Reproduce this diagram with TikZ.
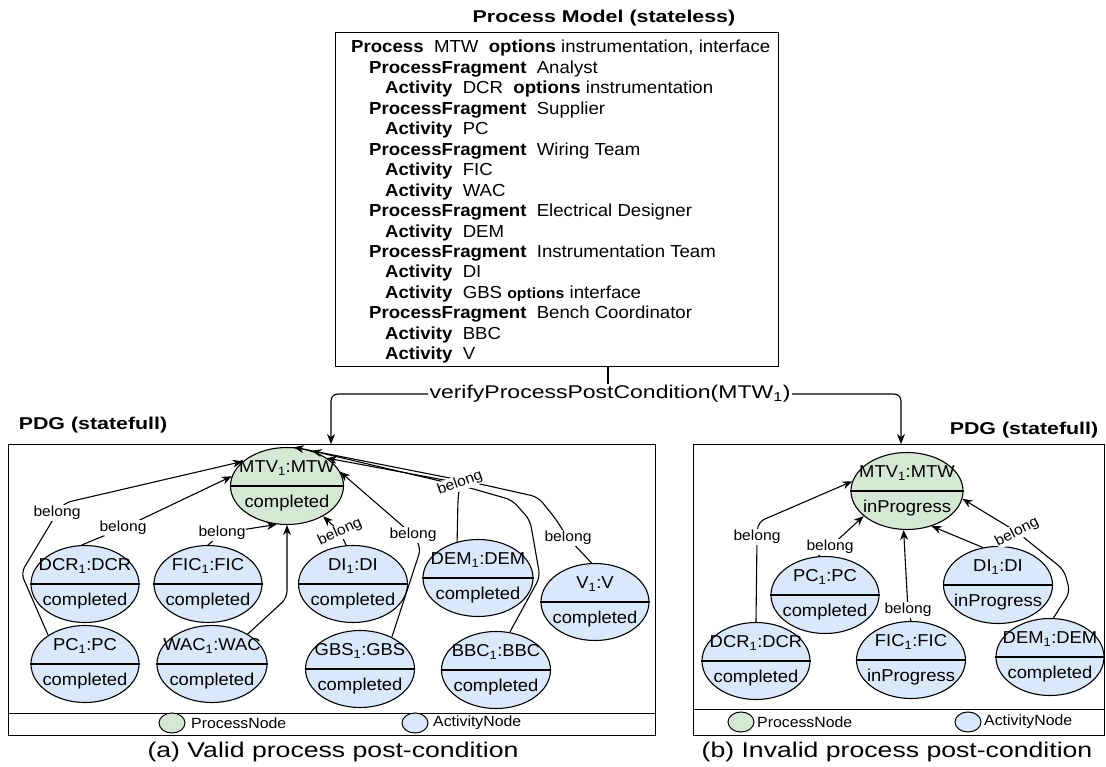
\documentclass[tikz,border=0pt]{standalone}
\usepackage{fontspec}
\setmainfont[FakeStretch=1.07]{Liberation Sans}
\newfontfamily\widefont[FakeStretch=1.25]{Liberation Sans}
\usetikzlibrary{arrows.meta,shapes.geometric,calc}
\definecolor{pgreen}{HTML}{D5E8D4}
\definecolor{ablue}{HTML}{DAE8FC}
\tikzset{
  ell/.style={ellipse, draw, line width=1.1pt, minimum width=109pt, minimum height=77pt, inner sep=0pt},
  eltxt/.style={font=\fontsize{17.2}{20}\selectfont, inner sep=0pt},
  lbl/.style={font=\fontsize{14.6}{17}\selectfont, fill=white, inner sep=1pt},
  conn/.style={line width=1.1pt, rounded corners=7pt},
  arr/.style={conn, -{Stealth[length=10pt,width=8pt]}},
  panel/.style={draw, line width=1.1pt, inner sep=0pt, anchor=north west},
  boxtxt/.style={font=\fontsize{17.4}{20}\selectfont, anchor=base west, inner sep=0pt},
  legell/.style={ellipse, draw, line width=1pt, minimum width=26pt, minimum height=20pt, inner sep=0pt},
  legtxt/.style={font=\fontsize{14.8}{17}\selectfont, anchor=west, inner sep=0pt},
  headtxt/.style={font=\widefont\fontsize{17.1}{20}\selectfont\bfseries, inner sep=0pt},
  captxt/.style={font=\widefont\fontsize{21.3}{25}\selectfont, inner sep=0pt}
}
\newcommand\enode[7]{%
  \node[ell, fill=#7, minimum width=#4] (#1) at (#2,#3) {};
  \draw[line width=1.1pt] (#1.west) -- (#1.east);
  \node[eltxt] (#1t) at ([yshift=18pt]#1.center) {#5};
  \node[eltxt] (#1b) at ([yshift=-17pt]#1.center) {#6};
}
\begin{document}
\begin{tikzpicture}[x=1pt,y=-1pt]
\useasboundingbox (0,0) rectangle (1106,767);

% ---------------- Process model
\node[headtxt] (title) at (604,18) {Process Model (stateless)};
\node[panel, minimum width=443pt, minimum height=334pt] (pm) at (335,32) {};
\foreach \i/\xx/\mytext in {
  1/351/{\textbf{Process}~~MTW~~\textbf{options}~instrumentation,~interface},
  2/369/{\textbf{ProcessFragment}~~Analyst},
  3/385/{\textbf{Activity}~~DCR~~\textbf{options}~instrumentation},
  4/369/{\textbf{ProcessFragment}~~Supplier},
  5/385/{\textbf{Activity}~~PC},
  6/369/{\textbf{ProcessFragment}~~Wiring Team},
  7/385/{\textbf{Activity}~~FIC},
  8/385/{\textbf{Activity}~~WAC},
  9/369/{\textbf{ProcessFragment}~~Electrical Designer},
  10/385/{\textbf{Activity}~~DEM},
  11/369/{\textbf{ProcessFragment}~~Instrumentation Team},
  12/385/{\textbf{Activity}~~DI},
  13/385/{\textbf{Activity}~~GBS~{\fontsize{14.8}{17}\selectfont\bfseries options}~interface},
  14/369/{\textbf{ProcessFragment}~~Bench Coordinator},
  15/385/{\textbf{Activity}~~BBC},
  16/385/{\textbf{Activity}~~V}}
  \node[boxtxt] (pl\i) at (\xx,{53+20.45*(\i-1)}) {\mytext};

\node[font=\widefont\fontsize{18.4}{21}\selectfont, inner sep=1.5pt] (vp) at (610,394) {verifyProcessPostCondition(MTW\textsubscript{1})};

% ---------------- panels
\node[headtxt] (ltitle) at (93,425) {PDG (statefull)};
\node[headtxt] (rtitle) at (1024,430) {PDG (statefull)};
\node[panel, minimum width=647pt, minimum height=291pt] (lbox) at (8,444) {};
\node[panel, minimum width=411pt, minimum height=291pt] (rbox) at (693,444) {};
\draw[line width=1.1pt] (lbox.south west) ++(0,23pt) coordinate (lsep) -- (lsep -| lbox.east);
\draw[line width=1.1pt] (rbox.south west) ++(0,27pt) coordinate (rsep) -- (rsep -| rbox.east);

\coordinate (s0) at ($(pm.south west)+(273pt,0)$);
\coordinate (lin) at ($(lbox.north west)+(323pt,0)$);
\coordinate (rin) at ($(rbox.north west)+(208pt,0)$);
\draw[conn] (s0) -- (s0 |- vp.north);
\draw[arr] (vp.west) -| (lin);
\draw[arr] (vp.east) -| (rin);

% ---------------- left PDG nodes
\enode{lMTV}{287}{486}{113pt}{MTV\textsubscript{1}:MTW}{completed}{pgreen}
\enode{lDCR}{85}{584}{108pt}{DCR\textsubscript{1}:DCR}{completed}{ablue}
\enode{lFIC}{208}{584}{108pt}{FIC\textsubscript{1}:FIC}{completed}{ablue}
\enode{lPC}{85}{664}{108pt}{PC\textsubscript{1}:PC}{completed}{ablue}
\enode{lWAC}{212}{664}{110pt}{WAC\textsubscript{1}:WAC}{completed}{ablue}
\enode{lDI}{353}{584}{109pt}{DI\textsubscript{1}:DI}{completed}{ablue}
\enode{lGBS}{360}{669}{109pt}{GBS\textsubscript{1}:GBS}{completed}{ablue}
\enode{lDEM}{478}{578}{110pt}{DEM\textsubscript{1}:DEM}{completed}{ablue}
\enode{lBBC}{496}{670}{109pt}{BBC\textsubscript{1}:BBC}{completed}{ablue}
\enode{lV}{595}{602}{108pt}{V\textsubscript{1}:V}{completed}{ablue}

% left edges
\draw[arr] (lPC.142) -- (21,573) -- (57,513) node[lbl] (lb1) {belong} -- (64,503) -- (lMTV.151);
\draw[arr] (lDCR.95) -- (123,528) node[lbl] (lb2) {belong} -- (lMTV.170);
\draw[arr] (lFIC.north) -- (222,533) node[lbl] (lb3) {belong} -- (lMTV.255);
\draw[arr] (lWAC.40) -- (287,598) -- (lMTV.south);
\draw[arr] (lDI.100) -- (340,532) node[lbl,rotate=25] (lb4) {belong} -- (lMTV.-40);
\draw[arr] (lGBS.45) -- (421,548) -- (413,535) node[lbl] (lb5) {belong} -- (lMTV.15);
\draw[arr] (lBBC.70) -- (540,577) -- (530,520) -- (512,500) -- (470,488) -- (lMTV.55);
\draw[arr] (lV.95) -- (568,538) node[lbl] (lb7) {belong} -- (555,518) -- (538,497) -- (480,484) -- (lMTV.80);
\draw[arr] (lDEM.120) -- (458,498) -- (460,483) node[lbl,rotate=20] (lb6) {belong} -- (lMTV.35);

% left legend
\node[legell, fill=pgreen] (lleg1) at (172,723) {};
\node[legtxt] (lleg1t) at (191,723) {ProcessNode};
\node[legell, fill=ablue] (lleg2) at (415,723) {};
\node[legtxt] (lleg2t) at (433,723) {ActivityNode};

% ---------------- right PDG nodes
\enode{rMTV}{907}{491}{112pt}{MTV\textsubscript{1}:MTW}{inProgress}{pgreen}
\enode{rDCR}{756}{661}{108pt}{DCR\textsubscript{1}:DCR}{completed}{ablue}
\enode{rPC}{825}{595}{108pt}{PC\textsubscript{1}:PC}{completed}{ablue}
\enode{rFIC}{911}{660}{109pt}{FIC\textsubscript{1}:FIC}{inProgress}{ablue}
\enode{rDI}{998}{585}{109pt}{DI\textsubscript{1}:DI}{inProgress}{ablue}
\enode{rDEM}{1050}{657}{108pt}{DEM\textsubscript{1}:DEM}{completed}{ablue}

% right edges
\draw[arr] (rDCR.north) -- (757,537) node[lbl] (rb1) {belong} -- (758,522) -- (rMTV.170);
\draw[arr] (rPC.100) -- (830,547) node[lbl] (rb2) {belong} -- (rMTV.210);
\draw[arr] (rFIC.north) -- (908,610) node[lbl] (rb3) {belong} -- (rMTV.265);
\draw[arr] (rDI.112) -- (rMTV.-55);
\draw[arr] (rDEM.85) -- (1070,592) -- (1064,570) -- (1017,532) node[lbl,rotate=27] (rb4) {belong} -- (rMTV.-8);

% right legend
\node[legell, fill=pgreen] (rleg1) at (741,722) {};
\node[legtxt] (rleg1t) at (757,722) {ProcessNode};
\node[legell, fill=ablue] (rleg2) at (968,722) {};
\node[legtxt] (rleg2t) at (984,722) {ActivityNode};

% captions
\node[captxt] (lcap) at (333,752) {(a) Valid process post-condition};
\node[captxt] (rcap) at (897,752) {(b) Invalid process post-condition};
\end{tikzpicture}
\end{document}
